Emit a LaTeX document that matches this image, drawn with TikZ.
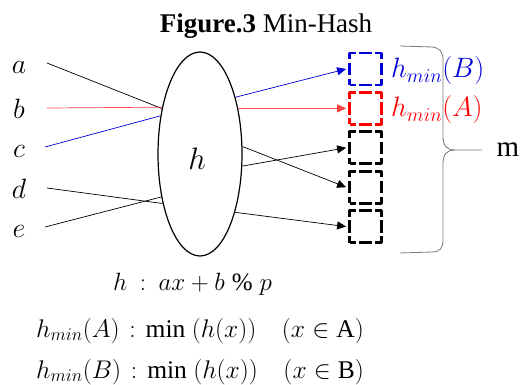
\RequirePackage{fix-cm}
\documentclass[tikz,border=0pt]{standalone}
\usepackage{fontspec}
\setmainfont{Liberation Serif}
\usetikzlibrary{arrows.meta,calc,shapes.geometric}
\definecolor{myblue}{RGB}{0,0,215}
\definecolor{myred}{RGB}{255,0,0}
\definecolor{bracegray}{RGB}{120,120,120}
\begin{document}
\begin{tikzpicture}[x=1pt,y=-1pt,
  lbl/.style={anchor=base,inner sep=0pt,font=\fontsize{28}{32}\selectfont},
  conn/.style={line width=0.7pt,-{Triangle[length=9pt,width=8pt]}},
  plain/.style={line width=0.7pt},
  slot/.style={draw,minimum size=32pt,inner sep=0pt,line width=2.8pt,
    dash pattern=on 12.5pt off 3.5pt,dash phase=6.25pt,line join=round},
  formula/.style={anchor=base west,inner sep=0pt,font=\fontsize{25.5}{29}\selectfont},
  slotlbl/.style={anchor=base west,inner sep=0pt,font=\fontsize{28}{32}\selectfont}]
\useasboundingbox (0,0) rectangle (528,385);
% title
\node[anchor=base,inner sep=0pt,font=\fontsize{27}{31}\selectfont] (title) at (266,33) {\textbf{Figure.3} Min-Hash};
% hash ellipse
\node[ellipse,draw,line width=1.2pt,minimum width=84pt,minimum height=204pt,inner sep=0pt] (hf) at (200,154) {};
\node[lbl,font=\fontsize{31}{35}\selectfont] (hl) at (197,170) {$h$};
% input labels
\node[lbl] (la) at (19,74) {$a$};
\node[lbl] (lb) at (19,119) {$b$};
\node[lbl] (lc) at (19,158) {$c$};
\node[lbl] (ld) at (19,199) {$d$};
\node[lbl] (le) at (19,238) {$e$};
\coordinate (sa) at (47,63);
\coordinate (sb) at (47,108);
\coordinate (sc) at (45,147);
\coordinate (sd) at (47,188);
\coordinate (se) at (45,227);
% slots
\node[slot,draw=myblue] (s1) at (365.5,69) {};
\node[slot,draw=myred] (s2) at (365.5,108.4) {};
\node[slot] (s3) at (365.5,147.8) {};
\node[slot] (s4) at (365.5,187.2) {};
\node[slot] (s5) at (365.5,226.6) {};
% left connectors
\draw[plain] (sa) -- (hf.130.2);
\draw[plain,myred!75] (sb) -- (hf.129.2);
\draw[plain,myblue] (sc) -- (hf.136.6);
\draw[plain] (sd) -- (hf.233.1);
\draw[plain] (se) -- (hf.228.5);
% right connectors
\draw[conn,myblue] (hf.58.6) -- ([xshift=-2pt]s1.west);
\draw[conn,myred!75] (hf.50.8) -- ([xshift=-2pt]s2.west);
\draw[conn] (hf.10.8) -- ([xshift=-2pt]s4.west);
\draw[conn] (hf.-16.2) -- ([xshift=-2pt]s3.west);
\draw[conn] (hf.-59.9) -- ([xshift=-2pt]s5.west);
% slot labels
\node[slotlbl,text=myblue] (hb) at (391,78) {$h_{min}(B)$};
\node[slotlbl,text=myred] (ha) at (391,117) {$h_{min}(A)$};
% brace
\draw[bracegray,line width=0.8pt] (400,46) -- (432,47) .. controls (440,48) and (443,52) .. (443,60)
  -- (443,136) .. controls (443,145) and (446,150) .. (455,150) -- (482,150);
\draw[bracegray,line width=0.8pt] (455,150) .. controls (446,150) and (443,155) .. (443,164)
  -- (443,240) .. controls (443,248) and (440,252) .. (432,252) -- (400,253);
\node[anchor=base,inner sep=0pt,font=\fontsize{29}{33}\selectfont] (m) at (508,157) {m};
% formulas
\node[anchor=base west,inner sep=0pt,font=\fontsize{25}{29}\selectfont] (f1) at (113,290) {$h \;\mathbin{:}\; ax + b \;\%\; p$};
\node[formula] (f2) at (36,337) {$h_{min}(A) \,\mathbin{:}\, \mathrm{min}\ (h(x))\quad (x\in \mathrm{A})$};
\node[formula] (f3) at (36,378) {$h_{min}(B) \,\mathbin{:}\, \mathrm{min}\ (h(x))\quad (x\in \mathrm{B})$};
\end{tikzpicture}
\end{document}
